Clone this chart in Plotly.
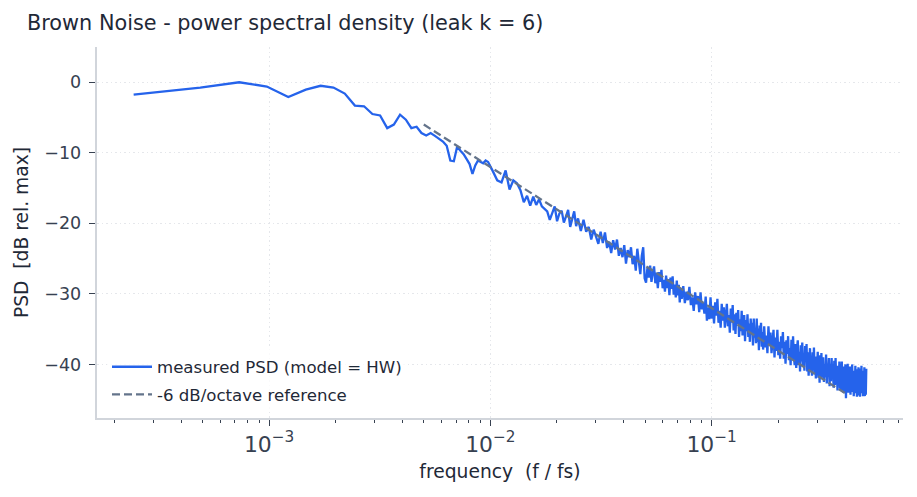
import plotly.graph_objects as go

NFFT = 4096  # Welch segment length -> frequency bin k sits at k / NFFT

# frequency bins (indices) for each stretch of the spectrum
bins_a = list(range(1, 41))
bins_b = list(range(42, 101, 2))
bins_c = list(range(102, 301, 3))
bins_d = list(range(305, 701, 5))
bins_e = list(range(708, 1301, 8))
bins_f = list(range(1308, 2049, 10))

# measured PSD in dB rel. max
psd_a = [-1.75, -0.75, 0.0, -0.6, -2.1, -1.05, -0.5, -0.75, -1.6, -3.3,
         -3.4, -4.5, -4.7, -6.5, -6.0, -4.6, -5.3, -6.5, -6.3, -7.2,
         -7.55, -7.2, -7.6, -8.0, -8.4, -9.0, -11.1, -11.2, -9.1, -9.7,
         -10.2, -10.9, -11.6, -13.0, -11.8, -11.1, -11.3, -11.5, -11.1, -11.3]
psd_b = [-12.6, -13.9, -14.2, -12.5, -15.2, -13.9, -14.3, -15.3, -17.0, -16.1,
         -17.5, -16.2, -17.4, -16.6, -17.6, -17.9, -18.3, -19.5, -18.6, -17.6,
         -19.7, -18.6, -18.2, -19.9, -19.0, -18.1, -20.5, -19.4, -18.3, -20.4]
psd_c = [-19.3, -21.1, -19.5, -21.2, -20.5, -22.3, -20.9, -21.9, -22.9, -21.2,
         -22.8, -21.3, -23.5, -22.6, -24.2, -22.4, -23.7, -22.3, -24.6, -23.5,
         -24.8, -23.1, -25.7, -23.8, -24.8, -23.4, -25.8, -24.6, -26.7, -23.6,
         -25.8, -27.2, -24.6, -23.4, -27.8, -28.4, -26.3, -27.7, -26.0, -28.3,
         -27.0, -26.1, -28.5, -27.0, -29.2, -26.9, -28.3, -26.6, -29.2, -28.0,
         -29.7, -27.4, -29.2, -27.9, -30.2, -27.7, -29.3, -27.5, -30.1, -28.7,
         -30.5, -28.1, -30.2, -28.7, -31.2, -29.2, -30.7]
psd_d = [-28.9, -31.3, -29.7, -30.9, -29.0, -31.6, -30.5, -32.4, -29.8, -31.5,
         -30.3, -32.6, -29.8, -32.2, -31.3, -32.8, -30.4, -33.8, -31.9, -33.6,
         -30.5, -33.5, -31.7, -34.2, -31.2, -33.1, -30.7, -34.1, -32.4, -34.8,
         -31.4, -33.8, -31.9, -34.8, -32.5, -31.4, -34.6, -33.0, -35.5, -32.1,
         -34.1, -31.6, -35.2, -32.9, -35.7, -32.7, -34.3, -32.3, -36.1, -33.6,
         -35.3, -32.4, -35.9, -34.2, -33.0, -36.7, -33.7, -35.3, -32.9, -36.1,
         -34.2, -36.8, -33.5, -35.3, -34.1, -37.3, -33.5, -36.2, -35.0, -37.0,
         -33.5, -36.8, -34.9, -38.0, -34.5, -36.3, -34.1, -37.5, -35.4, -37.9]
psd_e = [-34.6, -37.6, -35.9, -38.4, -34.6, -37.2, -35.5, -38.4, -36.6, -35.1,
         -39.0, -36.2, -38.1, -35.1, -38.7, -36.8, -39.2, -36.0, -37.7, -35.4,
         -39.2, -36.8, -39.9, -36.6, -38.5, -36.0, -39.4, -37.7, -40.1, -36.5,
         -39.3, -36.0, -38.8, -40.1, -37.1, -40.5, -37.8, -36.6, -40.1, -38.2,
         -41.0, -37.3, -39.6, -36.9, -40.1, -38.4, -40.9, -37.4, -39.6, -37.1,
         -41.0, -38.3, -41.6, -38.9, -37.7, -40.8, -39.4, -41.6, -38.3, -40.6,
         -37.6, -41.4, -39.1, -42.0, -38.9, -40.3, -38.2, -41.9, -39.6, -42.6,
         -38.7, -41.3, -38.4, -41.9, -39.8]
psd_f = [-39.0, -42.5, -40.0, -41.8, -38.6, -42.7, -39.9, -41.3, -39.1, -43.1,
         -39.9, -42.4, -39.1, -41.9, -40.8, -43.3, -39.5, -42.9, -39.1, -42.2,
         -40.7, -43.7, -40.2, -42.6, -39.6, -43.4, -41.2, -43.7, -39.6, -43.1,
         -40.8, -44.0, -40.3, -42.5, -40.0, -44.8, -41.2, -43.6, -39.9, -44.0,
         -41.0, -42.9, -40.3, -44.3, -41.7, -43.9, -40.0, -43.5, -40.9, -44.5,
         -41.4, -44.1, -40.2, -43.3, -40.7, -44.6, -41.7, -43.8, -40.4, -44.4,
         -41.1, -44.6, -40.6, -43.2, -40.2, -44.1, -41.7, -44.5, -40.9, -43.8,
         -40.4, -44.5, -41.5, -44.3, -40.6]

# -6 dB/octave reference line end points
ref_freq = [0.005, 0.4]
ref_db = [-6.0, -44.06]

bins = bins_a + bins_b + bins_c + bins_d + bins_e + bins_f
psd = psd_a + psd_b + psd_c + psd_d + psd_e + psd_f
freq = [k / NFFT for k in bins]

BLUE = "#2563eb"
GREY = "#64748b"
TEXT = "#1f2937"
TICK = "#374151"
SPINE = "#d1d5db"
GRID = "#e5e7eb"
FONT = "DejaVu Sans"

fig = go.Figure()
fig.add_trace(go.Scatter(
    x=freq, y=psd, mode="lines", name="measured PSD (model = HW)",
    legendgroup="psd",
    line=dict(color=BLUE, width=2.3),
))
fig.add_trace(go.Scatter(
    x=ref_freq, y=ref_db, mode="lines", name="-6 dB/octave reference",
    legendgroup="ref",
    line=dict(color=GREY, width=2.3, dash="8px,4px"),
))

W, H = 917, 497
L, R, T, B = 97, 14, 47, 79

fig.update_layout(
    width=W, height=H,
    margin=dict(l=L, r=R, t=T, b=B),
    paper_bgcolor="white", plot_bgcolor="white",
    font=dict(family=FONT, color=TICK, size=17),
    title=dict(
        text="Brown Noise - power spectral density (leak k = 6)",
        x=27 / W, xanchor="left", xref="container",
        y=1 - 23 / H, yanchor="middle", yref="container",
        font=dict(family=FONT, size=20.8, color=TEXT),
    ),
    showlegend=True,
    legend=dict(
        x=0.0124, y=0.015, xanchor="left", yanchor="bottom",
        bgcolor="rgba(255,255,255,0.8)", borderwidth=0,
        font=dict(family=FONT, size=16.6, color=TEXT),
        itemwidth=40, tracegroupgap=3,
    ),
)

fig.update_xaxes(
    type="log", range=[-3.778, -0.135],
    dtick=1, exponentformat="power",
    showline=True, linecolor=SPINE, linewidth=1.6, mirror=False,
    ticks="outside", ticklen=6.5, tickwidth=1.3, tickcolor=TICK,
    tickfont=dict(family=FONT, size=17.5, color=TICK),
    showgrid=True, gridcolor=GRID, gridwidth=1, griddash="1.5px,3px",
    zeroline=False,
    minor=dict(dtick="D1", ticks="outside", ticklen=3.5, tickwidth=1, tickcolor=TICK, showgrid=False),
    title=dict(text="frequency \u00a0(f / fs)", standoff=9,
               font=dict(family=FONT, size=18.7, color=TEXT)),
)
fig.update_yaxes(
    range=[-47.6, 5.0],
    tickvals=[0, -10, -20, -30, -40],
    showline=True, linecolor=SPINE, linewidth=1.6, mirror=False,
    ticks="outside", ticklen=6.5, tickwidth=1.3, tickcolor=TICK,
    tickfont=dict(family=FONT, size=17.5, color=TICK),
    ticklabelstandoff=4,
    showgrid=True, gridcolor=GRID, gridwidth=1, griddash="1.5px,3px",
    zeroline=False,
    title=dict(text="PSD \u00a0[dB rel. max]", standoff=11,
               font=dict(family=FONT, size=18.7, color=TEXT)),
)

fig.write_html("out.html",
               config={"displayModeBar": False},
               post_script="document.body.style.margin='0';document.body.style.padding='0';")
